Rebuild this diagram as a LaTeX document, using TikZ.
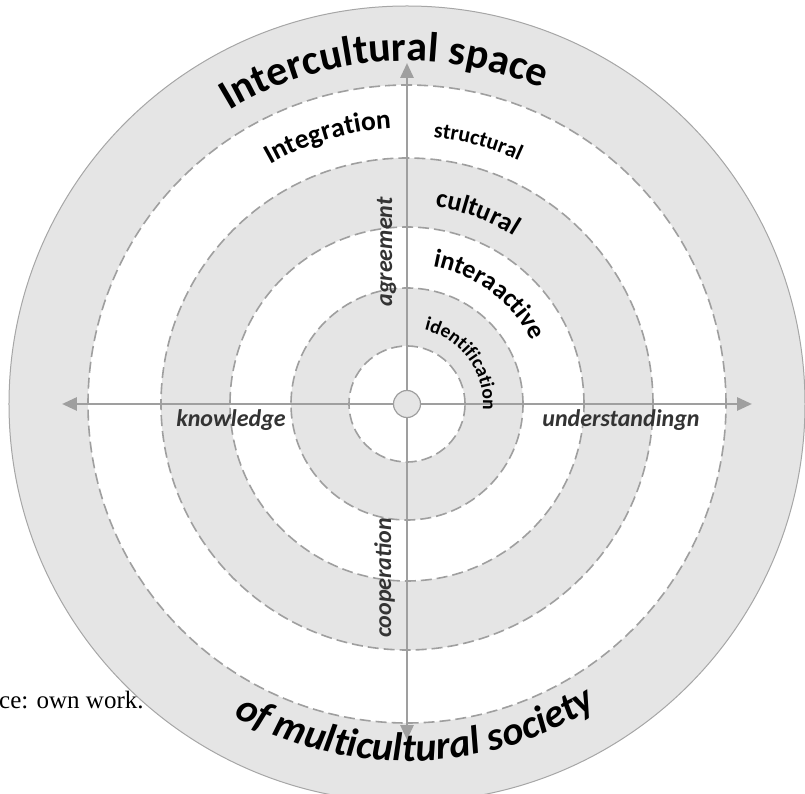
\documentclass[tikz,border=0pt]{standalone}
\usepackage{fontspec}
\setmainfont{Carlito}
\newfontfamily\notefont{Liberation Serif}
\usetikzlibrary{arrows.meta,decorations.text}

\begin{document}
\begin{tikzpicture}[x=1pt,y=1pt,
	ring/.style={draw=gray!75,dash pattern=on 11pt off 5pt,line width=1.6pt},
	axis/.style={draw=gray!75,line width=2.8pt,{Triangle[length=15pt,width=13pt]}-{Triangle[length=15pt,width=13pt]}},
	sidelabel/.style={font=\fontsize{24}{28}\selectfont\bfseries\itshape,text=black!80,inner sep=0pt,anchor=base}]
		\useasboundingbox (-407,-390) rectangle (398,404);
		\clip (-407,-390) rectangle (398,404);
		%outer disc
		\draw[fill=gray!20,draw=gray!70,line width=1pt] (0,0) circle (398pt);
		%rings
		\foreach \r/\c in {319/white,246/gray!20,177/white,116/gray!20,58/white}
			\fill[\c] (0,0) circle (\r pt);
		\foreach \r in {319,246,177,116,58}
			\draw[ring] (0,0) circle (\r pt);
		%axes
		\coordinate (north) at (0,341);
		\coordinate (south) at (0,-336);
		\coordinate (west) at (-345,0);
		\coordinate (east) at (345,0);
		\draw[axis] (south) -- (north);
		\draw[axis] (west) -- (east);
		%centre
		\node[circle,draw=gray!75,fill=gray!20,line width=1.2pt,minimum size=27pt,inner sep=0pt] (hub) at (0,0) {};
		%titles
		\path[decorate,decoration={text along path,text align=center,
			text={|\fontsize{42}{42}\selectfont\bfseries|Intercultural space}}]
			(126:343pt) arc[start angle=126,end angle=62,radius=343pt];
		\path[decorate,decoration={text along path,text align=center,
			text={|\fontsize{40}{40}\selectfont\bfseries\itshape|of multicultural society}}]
			(235:357pt) arc[start angle=235,end angle=308,radius=357pt];
		%levels
		\path[decorate,decoration={text along path,text align=center,
			text={|\fontsize{27.5}{27.5}\selectfont\bfseries|Integration}}]
			(127:276pt) arc[start angle=127,end angle=86,radius=276pt];
		\path[decorate,decoration={text along path,text align=center,
			text={|\fontsize{22}{22}\selectfont\bfseries|structural}}]
			(90:268pt) arc[start angle=90,end angle=59.7,radius=268pt];
		\path[decorate,decoration={text along path,text align=center,
			text={|\fontsize{26.5}{26.5}\selectfont\bfseries|cultural}}]
			(90:199pt) arc[start angle=90,end angle=49.5,radius=199pt];
		\path[decorate,decoration={text along path,text align=center,
			text={|\fontsize{26}{26}\selectfont\bfseries|interaactive}}]
			(86:140pt) arc[start angle=86,end angle=20,radius=140pt];
		\path[decorate,decoration={text along path,text align=center,
			text={|\fontsize{19.5}{19.5}\selectfont\bfseries|identification}}]
			(86:76pt) arc[start angle=86,end angle=-14,radius=76pt];
		%axis labels
		\node[sidelabel] (know) at (-176,-23) {knowledge};
		\node[sidelabel] (under) at (214,-23) {understandingn};
		\node[sidelabel,rotate=90] (agree) at (-15,152) {agreement};
		\node[sidelabel,rotate=90] (coop) at (-16,-174) {cooperation};
		%source note
		\node[font=\notefont\fontsize{25}{30}\selectfont,anchor=base west,inner sep=0pt] (source) at (-408,-304) {ce: own work.};
	\end{tikzpicture}
\end{document}
